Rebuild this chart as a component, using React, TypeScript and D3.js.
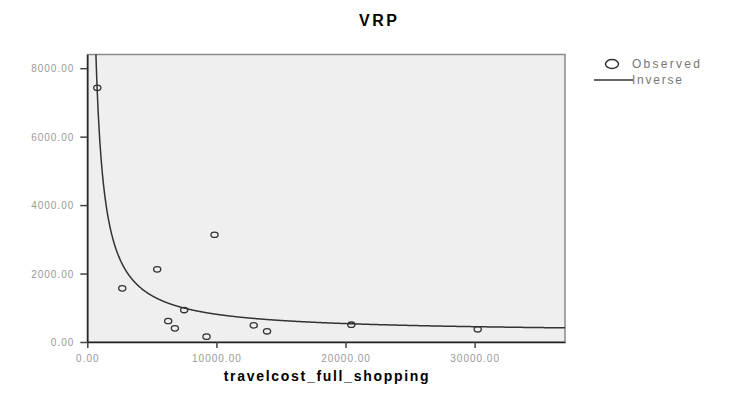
import React, { useEffect, useRef } from "react";
import * as d3 from "d3";

// observed points
const travelCost = [775, 2707, 5414, 9853, 6265, 6783, 7502, 9234, 12892, 13921, 20448, 30240];
const vrp = [7425, 1568, 2122, 3133, 613, 399, 934, 156, 487, 312, 505, 371];
const xTicks = [0, 10000, 20000, 30000];
const yTicks = [0, 2000, 4000, 6000, 8000];
const legendLabels = ["Observed", "Inverse"];

// inverse model y = b0 + b1 / x, least squares on the observed data
function fitInverse(xs: number[], ys: number[]) {
    const u = xs.map(v => 1 / v);
    const mu = d3.mean(u)!;
    const my = d3.mean(ys)!;
    let sxy = 0, suu = 0;
    u.forEach((v, i) => {
        sxy += (v - mu) * (ys[i] - my);
        suu += (v - mu) * (v - mu);
    });
    const b1 = sxy / suu;
    return { b0: my - b1 * mu, b1 };
}

export default function App() {
    const chartRef = useRef<SVGSVGElement>(null);

    useEffect(() => {
        const width = 740;
        const height = 394;
        const left = 87.3, right = 565, top = 54.5, bottom = 342;

        const x = d3.scaleLinear().domain([0, 37000]).range([left, right]);
        const y = d3.scaleLinear().domain([0, 8400]).range([bottom, top]);

        const svg = d3.select(chartRef.current);
        svg.selectAll("*").remove();
        svg.attr("width", width).attr("height", height);

        svg.append("text")
            .attr("x", 378).attr("y", 26)
            .attr("text-anchor", "middle")
            .attr("font-family", "Liberation Sans, Arial, sans-serif")
            .attr("font-weight", "bold")
            .attr("font-size", 16)
            .attr("textLength", 38)
            .text("VRP");

        svg.append("clipPath").attr("id", "plot-clip")
            .append("rect")
            .attr("x", left).attr("y", top)
            .attr("width", right - left).attr("height", bottom - top);

        svg.append("rect")
            .attr("x", left).attr("y", top)
            .attr("width", right - left).attr("height", bottom - top)
            .attr("fill", "#efefef")
            .attr("stroke", "#8a8a8a")
            .attr("stroke-width", 1.5);

        // fitted curve
        const { b0, b1 } = fitInverse(travelCost, vrp);
        const xs = d3.range(500, 37001, 25);
        const line = d3.line<number>()
            .x(d => x(d))
            .y(d => y(b0 + b1 / d));
        svg.append("path")
            .datum(xs)
            .attr("clip-path", "url(#plot-clip)")
            .attr("d", line)
            .attr("fill", "none")
            .attr("stroke", "#333")
            .attr("stroke-width", 1.5);

        // observed points
        svg.selectAll("ellipse.obs")
            .data(travelCost)
            .enter()
            .append("ellipse")
            .attr("class", "obs")
            .attr("cx", d => x(d))
            .attr("cy", (d, i) => y(vrp[i]))
            .attr("rx", 3.6)
            .attr("ry", 2.7)
            .attr("fill", "none")
            .attr("stroke", "#333")
            .attr("stroke-width", 1.3);

        const fmt = d3.format(".2f");
        const tickFont = (g: any) => g.selectAll("text")
            .attr("font-family", "Liberation Sans, Arial, sans-serif")
            .attr("font-size", 10)
            .attr("letter-spacing", 1)
            .attr("fill", "#999");

        const yAxis = svg.append("g")
            .attr("transform", `translate(${left},0)`)
            .call(d3.axisLeft(y).tickValues(yTicks).tickFormat(d => fmt(+d)).tickSize(7).tickSizeOuter(0).tickPadding(6));
        yAxis.select(".domain").attr("stroke", "#222").attr("stroke-width", 1.5);
        yAxis.selectAll(".tick line").attr("stroke", "#444").attr("stroke-width", 1.5);
        yAxis.selectAll("text").attr("dy", "0.35em");
        tickFont(yAxis);

        const xAxis = svg.append("g")
            .attr("transform", `translate(0,${bottom})`)
            .call(d3.axisBottom(x).tickValues(xTicks).tickFormat(d => fmt(+d)).tickSize(6).tickSizeOuter(0).tickPadding(7));
        xAxis.select(".domain").attr("stroke", "#222").attr("stroke-width", 1.5);
        xAxis.selectAll(".tick line").attr("stroke", "#444").attr("stroke-width", 1.5);
        tickFont(xAxis);

        svg.append("text")
            .attr("x", (left + right) / 2).attr("y", 381)
            .attr("text-anchor", "middle")
            .attr("font-family", "Liberation Sans, Arial, sans-serif")
            .attr("font-weight", "bold")
            .attr("font-size", 14)
            .attr("textLength", 205)
            .text("travelcost_full_shopping");

        // legend
        svg.append("ellipse")
            .attr("cx", 612).attr("cy", 64)
            .attr("rx", 6.5).attr("ry", 4.5)
            .attr("fill", "none")
            .attr("stroke", "#333")
            .attr("stroke-width", 1.5);
        svg.append("line")
            .attr("x1", 594).attr("x2", 633)
            .attr("y1", 80).attr("y2", 80)
            .attr("stroke", "#333")
            .attr("stroke-width", 1.5);
        svg.selectAll("text.legend")
            .data(legendLabels)
            .enter()
            .append("text")
            .attr("class", "legend")
            .attr("x", 632)
            .attr("y", (d, i) => 68 + i * 16)
            .attr("font-family", "Liberation Sans, Arial, sans-serif")
            .attr("font-size", 12)
            .attr("textLength", (d, i) => (i === 0 ? 68 : 50))
            .attr("fill", "#777")
            .text(d => d);
    }, []);

    return (
        <svg ref={chartRef} style={{ position: "absolute", left: 0, top: 0 }}></svg>
    );
}
